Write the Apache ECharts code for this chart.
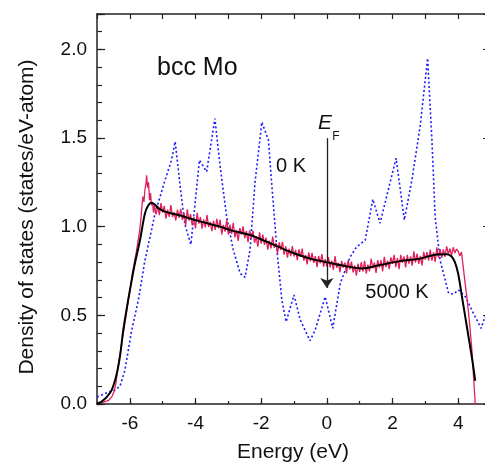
<!DOCTYPE html>
<html>
<head>
<meta charset="utf-8">
<script src="https://cdn.jsdelivr.net/npm/echarts@6/dist/echarts.min.js"></script>
<style>
html,body{margin:0;padding:0;background:#fff;}
#chart{width:485px;height:465px;}
</style>
</head>
<body>
<div id="chart"></div>
<script>
// ---- data (energy in eV, DOS in states/eV-atom) ----
var xTickLabels = [-6, -4, -2, 0, 2, 4];
var yTickLabels = [0, 0.5, 1.0, 1.5, 2.0];

// 0 K DOS (blue dotted)
var dos0K = [
  [-7.0,0.04],[-6.6,0.07],[-6.45,0.079],[-6.3,0.1],[-6.15,0.19],[-5.95,0.41],[-5.74,0.587],
  [-5.54,0.81],[-5.23,1.075],[-4.95,1.25],[-4.73,1.376],[-4.62,1.48],[-4.45,1.2],[-4.32,1.01],
  [-4.14,0.9],[-3.88,1.376],[-3.66,1.31],[-3.41,1.61],[-3.25,1.34],[-3.05,1.056],[-2.85,0.869],
  [-2.64,0.737],[-2.49,0.714],[-2.34,0.869],[-2.19,1.245],[-1.98,1.59],[-1.78,1.49],[-1.68,1.245],
  [-1.52,0.869],[-1.37,0.587],[-1.24,0.464],[-1.0,0.615],[-0.81,0.474],[-0.51,0.357],[-0.35,0.42],
  [-0.05,0.605],[0.18,0.427],[0.41,0.68],[0.71,0.83],[0.91,0.887],[1.17,0.925],[1.40,1.155],
  [1.62,1.02],[2.11,1.386],[2.36,1.038],[2.59,1.263],[2.84,1.564],[3.07,1.95],[3.20,1.49],
  [3.30,1.056],[3.45,0.81],[3.71,0.624],[3.86,0.62],[4.01,0.643],[4.22,0.605],[4.47,0.51],
  [4.70,0.427],[4.83,0.50]
];

// 5000 K DOS, raw (red, noisy): left edge, sampled body, right edge
var dos5000Head = [
  [-7.0,0.005],[-6.8,0.01],[-6.65,0.02],[-6.55,0.04],[-6.48,0.07],[-6.42,0.12],[-6.35,0.22],
  [-6.28,0.30],[-6.2,0.40],[-6.12,0.49],[-6.05,0.58],[-5.98,0.66],[-5.92,0.74],[-5.86,0.8],
  [-5.8,0.86],[-5.75,0.92],[-5.7,0.98],[-5.66,1.05],[-5.63,1.12],[-5.6,1.17],[-5.57,1.14],
  [-5.54,1.21],[-5.51,1.24],[-5.49,1.29],[-5.46,1.22],[-5.43,1.25],[-5.4,1.15],[-5.37,1.19],
  [-5.34,1.12],[-5.31,1.14],[-5.28,1.08],[-5.25,1.12],[-5.2,1.07]
];
var dos5000BodyStart = -5.15;
var dos5000BodyStep = 0.05;
var dos5000Body = [
  1.118,1.065,1.133,1.08,1.117,1.045,1.097,1.055,1.122,1.055,1.082,1.035,1.097,1.05,
  1.101,1.038,1.079,1.006,1.098,1.035,1.071,1.008,1.054,0.99,
  1.078,1.017,1.055,0.989,1.042,0.996,1.065,0.998,1.027,0.975,
  1.033,0.982,1.045,0.99,1.04,0.957,1.01,0.972,1.038,0.955,
  1.012,0.96,1.022,0.94,0.982,0.92,0.993,0.955,1.002,0.935,
  0.976,0.913,0.98,0.931,0.978,0.909,0.946,0.887,0.969,0.905,
  0.956,0.898,0.939,0.871,0.922,0.878,0.945,0.881,0.909,0.85,
  0.912,0.869,0.915,0.842,0.889,0.826,0.877,0.834,0.89,0.832,
  0.869,0.811,0.873,0.83,0.877,0.809,0.841,0.788,0.855,0.805,
  0.853,0.796,0.834,0.772,0.835,0.793,0.846,0.774,0.817,0.775,
  0.828,0.771,0.809,0.757,0.835,0.768,0.796,0.744,0.807,0.77,
  0.798,0.737,0.811,0.759,0.803,0.742,0.78,0.724,0.792,0.745,
  0.801,0.747,0.808,0.735,0.786,0.748,0.82,0.766,0.798,0.74,
  0.812,0.769,0.811,0.748,0.83,0.772,0.809,0.761,0.828,0.79,
  0.841,0.772,0.824,0.76,0.841,0.797,0.833,0.77,0.841,0.792,
  0.833,0.78,0.861,0.797,0.848,0.79,0.836,0.782,0.858,0.815,
  0.857,0.809,0.871,0.808,0.855,0.802,0.884,0.826,0.873,0.825,
  0.872,0.83,0.889,0.845,0.877,0.838,0.884,0.852,0.874
];
var dos5000Tail = [
  [4.0,0.862],[4.05,0.835],[4.1,0.858],[4.15,0.78],[4.2,0.70],[4.28,0.58],[4.35,0.45],
  [4.42,0.30],[4.48,0.12],[4.52,0.0],[4.56,0.0]
];

// 5000 K DOS, smoothed (black)
var dos5000Smooth = [
  [-7.0,0.0],[-6.85,0.015],[-6.7,0.04],[-6.55,0.08],[-6.4,0.17],[-6.3,0.27],[-6.2,0.417],
  [-6.05,0.587],[-5.87,0.77],[-5.69,0.925],[-5.54,1.075],[-5.44,1.12],[-5.34,1.135],[-5.24,1.125],
  [-5.13,1.105],[-4.93,1.085],[-4.52,1.066],[-4.02,1.038],[-3.7,1.022],[-3.46,1.01],[-3.2,0.998],
  [-2.95,0.981],[-2.34,0.953],[-1.83,0.915],[-1.12,0.859],[-0.51,0.82],[0,0.8],[0.51,0.78],
  [1.07,0.765],[1.62,0.784],[2.23,0.806],[2.84,0.82],[3.35,0.844],[3.66,0.845],[3.8,0.832],
  [3.9,0.80],[4.0,0.735],[4.12,0.6],[4.27,0.43],[4.42,0.26],[4.52,0.13]
];

// Fermi level arrow (E = 0)
var fermiArrow = [[0, 1.5], [0, 0.655]];

// ---- build raw red series ----
var dos5000Raw = dos5000Head.slice();
for (var i = 0; i < dos5000Body.length; i++) {
  dos5000Raw.push([+(dos5000BodyStart + i * dos5000BodyStep).toFixed(3), dos5000Body[i]]);
}
dos5000Raw = dos5000Raw.concat(dos5000Tail);

var FONT = '"Liberation Sans", Arial, Helvetica, sans-serif';
var AX = '#222';

var chart = echarts.init(document.getElementById('chart'), null, {renderer: 'canvas'});
var option = {
  animation: false,
  backgroundColor: '#ffffff',
  grid: {left: 97, top: 14, width: 394, height: 390, show: false, containLabel: false, outerBoundsMode: 'none'},
  xAxis: [
    {
      type: 'value', min: -7, max: 5, interval: 1, position: 'bottom',
      axisLine: {show: true, onZero: false, lineStyle: {color: AX, width: 1.5}},
      axisTick: {show: true, inside: true, length: 3, lineStyle: {color: AX, width: 1.2}},
      axisLabel: {
        show: true, customValues: xTickLabels, margin: 10, fontSize: 19, color: '#111', fontFamily: FONT,
        formatter: function (v) { return (Math.round(v) % 2 === 0) ? String(Math.round(v)) : ''; }
      },
      splitLine: {show: false}
    },
    {
      type: 'value', min: -7, max: 5, position: 'bottom',
      axisLine: {show: false, onZero: false},
      axisTick: {show: true, inside: true, length: 6, customValues: xTickLabels, lineStyle: {color: AX, width: 1.2}},
      axisLabel: {show: false}, splitLine: {show: false}
    },
    {
      type: 'value', min: -7, max: 5, interval: 1, position: 'top',
      axisLine: {show: true, onZero: false, lineStyle: {color: AX, width: 1.5}},
      axisTick: {show: true, inside: true, length: 5, lineStyle: {color: AX, width: 1.2}},
      axisLabel: {show: false}, splitLine: {show: false}
    }
  ],
  yAxis: [
    {
      type: 'value', min: 0, max: 2.2, interval: 0.1, position: 'left',
      axisLine: {show: true, onZero: false, lineStyle: {color: AX, width: 1.5}},
      axisTick: {show: true, inside: true, length: 5, lineStyle: {color: AX, width: 1.2}},
      axisLabel: {
        show: true, customValues: yTickLabels, margin: 10, fontSize: 19, color: '#111', fontFamily: FONT,
        formatter: function (v) { var k = Math.round(v * 10); return (k % 5 === 0 && k <= 20) ? (k / 10).toFixed(1) : ''; }
      },
      splitLine: {show: false}
    },
    {
      type: 'value', min: 0, max: 2.2, interval: 0.5, position: 'left',
      axisLine: {show: false, onZero: false},
      axisTick: {show: true, inside: true, length: 8, lineStyle: {color: AX, width: 1.2}},
      axisLabel: {show: false}, splitLine: {show: false}
    },
    {
      type: 'value', min: 0, max: 2.2, interval: 0.5, position: 'right',
      axisLine: {show: true, onZero: false, lineStyle: {color: AX, width: 1.5}},
      axisTick: {show: true, inside: true, length: 8, lineStyle: {color: AX, width: 1.2}},
      axisLabel: {show: false}, splitLine: {show: false}
    }
  ],
  series: [
    {
      name: '0 K', type: 'line', data: dos0K, showSymbol: false, symbol: 'none',
      lineStyle: {color: '#1a1aff', width: 1.6, type: [2, 2.4]}, z: 2
    },
    {
      name: '5000 K raw', type: 'line', data: dos5000Raw, showSymbol: false, symbol: 'none',
      lineStyle: {color: '#e0205a', width: 1.3}, z: 3
    },
    {
      name: '5000 K', type: 'line', data: dos5000Smooth, showSymbol: false, symbol: 'none', smooth: 0.35,
      lineStyle: {color: '#000', width: 2}, z: 4,
      markLine: {
        silent: true, symbol: ['none', 'arrow'], symbolSize: 10,
        label: {show: false},
        lineStyle: {color: '#222', width: 1.3, type: 'solid'},
        emphasis: {disabled: true},
        data: [[{coord: fermiArrow[0]}, {coord: fermiArrow[1]}]]
      }
    }
  ],
  graphic: [
    {type: 'text', x: 157, y: 68, style: {text: 'bcc Mo', fontSize: 25, fontFamily: FONT, fill: '#111', align: 'left', verticalAlign: 'middle'}},
    {type: 'text', x: 325, y: 123, style: {text: 'E', fontSize: 21, fontStyle: 'italic', fontFamily: FONT, fill: '#111', align: 'center', verticalAlign: 'middle'}},
    {type: 'text', x: 336, y: 137, style: {text: 'F', fontSize: 12, fontFamily: FONT, fill: '#111', align: 'center', verticalAlign: 'middle'}},
    {type: 'text', x: 291, y: 166, style: {text: '0 K', fontSize: 20, fontFamily: FONT, fill: '#111', align: 'center', verticalAlign: 'middle'}},
    {type: 'text', x: 397, y: 292, style: {text: '5000 K', fontSize: 20, fontFamily: FONT, fill: '#111', align: 'center', verticalAlign: 'middle'}},
    {type: 'text', x: 293, y: 452, style: {text: 'Energy (eV)', fontSize: 21, fontFamily: FONT, fill: '#111', align: 'center', verticalAlign: 'middle'}},
    {type: 'text', x: 27, y: 217, rotation: Math.PI / 2, style: {text: 'Density of states (states/eV-atom)', fontSize: 21, fontFamily: FONT, fill: '#111', align: 'center', verticalAlign: 'middle'}}
  ]
};
chart.setOption(option);
</script>
</body>
</html>
